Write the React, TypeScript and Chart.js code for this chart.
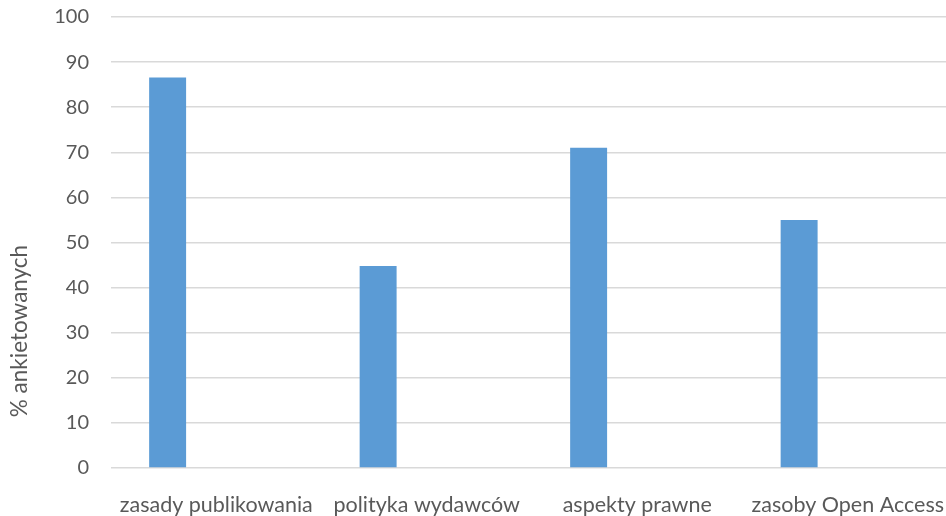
import React, { useEffect, useRef } from "react";
import { Chart, registerables } from "chart.js";

Chart.register(...registerables);

const categories = ["zasady publikowania", "polityka wydawców", "aspekty prawne", "zasoby Open Access"];
const percentValues = [86.6, 44.8, 71.0, 55.0];
const emptySeries = [null, null, null, null];
const yAxisTitle = "% ankietowanych";

const FONT = "Lato";
const TEXT = "#595959";

const axisTitlePlugin = {
  id: "axisTitle",
  afterDraw(chart: any) {
    const { ctx, chartArea } = chart;
    ctx.save();
    ctx.fillStyle = TEXT;
    ctx.font = `22.5px ${FONT}`;
    ctx.textAlign = "center";
    ctx.textBaseline = "middle";
    ctx.translate(20, chartArea.bottom - 137);
    ctx.rotate(-Math.PI / 2);
    ctx.fillText(yAxisTitle, 0, 0);
    ctx.restore();
  },
};

export default function App() {
  const ref = useRef<HTMLCanvasElement>(null);
  useEffect(() => {
    if (!ref.current) return;
    const chart = new Chart(ref.current, {
      type: "bar",
      data: {
        labels: categories,
        datasets: [
          { data: percentValues, backgroundColor: "#5b9bd5", borderWidth: 0 },
          { data: emptySeries as any, backgroundColor: "#ed7d31", borderWidth: 0 },
        ],
      },
      options: {
        responsive: false,
        animation: false,
        devicePixelRatio: 1,
        categoryPercentage: 0.924,
        barPercentage: 0.38,
        layout: { padding: { top: 17, right: 7, bottom: 0, left: 0 } },
        plugins: { legend: { display: false }, tooltip: { enabled: false } },
        scales: {
          x: {
            afterFit(scale: any) {
              scale.height = 48;
              scale.paddingLeft = 0;
              scale.paddingRight = 0;
            },
            grid: { display: false, drawTicks: false },
            border: { display: false },
            ticks: { color: TEXT, font: { family: FONT, size: 21.5 }, padding: 24, maxRotation: 0, autoSkip: false },
          },
          y: {
            min: 0,
            max: 100,
            afterFit(scale: any) {
              scale.width = 111;
              scale.paddingTop = 0;
              scale.paddingBottom = 0;
            },
            grid: { color: "#d9d9d9", lineWidth: 1.5, drawTicks: false },
            border: { display: false },
            ticks: { color: TEXT, font: { family: FONT, size: 20 }, padding: 22, stepSize: 10 },
          },
        },
      },
      plugins: [axisTitlePlugin],
    });
    return () => chart.destroy();
  }, []);
  return (
    <div style={{ position: "absolute", left: 0, top: 0, width: 946, height: 516, overflow: "hidden", background: "#fff" }}>
      <canvas ref={ref} width={960} height={516} style={{ width: 960, height: 516, display: "block" }} />
    </div>
  );
}
